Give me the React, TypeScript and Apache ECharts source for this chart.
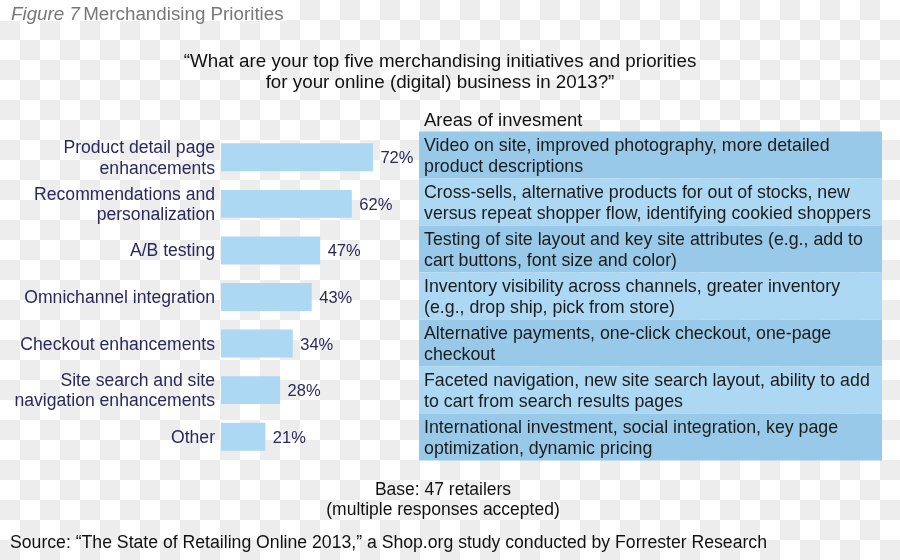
import React, { useEffect, useRef } from "react";
import * as echarts from "echarts";

const categories = [
  "Product detail page\nenhancements",
  "Recommendations and\npersonalization",
  "A/B testing",
  "Omnichannel integration",
  "Checkout enhancements",
  "Site search and site\nnavigation enhancements",
  "Other",
];
const shares = [72, 62, 47, 43, 34, 28, 21];
const investmentAreas = [
  "Video on site, improved photography, more detailed\nproduct descriptions",
  "Cross-sells, alternative products for out of stocks, new\nversus repeat shopper flow, identifying cookied shoppers",
  "Testing of site layout and key site attributes (e.g., add to\ncart buttons, font size and color)",
  "Inventory visibility across channels, greater inventory\n(e.g., drop ship, pick from store)",
  "Alternative payments, one-click checkout, one-page\ncheckout",
  "Faceted navigation, new site search layout, ability to add\nto cart from search results pages",
  "International investment, social integration, key page\noptimization, dynamic pricing",
];
const figureLabel = "Figure 7";
const figureTitle = "Merchandising Priorities";
const question = "\u201CWhat are your top five merchandising initiatives and priorities\nfor your online (digital) business in 2013?\u201D";
const areasHeader = "Areas of invesment";
const baseNote = "Base: 47 retailers\n(multiple responses accepted)";
const sourceNote = "Source: \u201CThe State of Retailing Online 2013,\u201D a Shop.org study conducted by Forrester Research";

const FONT = "'Liberation Sans', Arial, Helvetica, sans-serif";
const NAVY = "#2a295c";
const BAR = "#acd8f3";
const ROW_DARK = "#98c9e8";
const ROW_LIGHT = "#acd8f3";

export default function App() {
  const ref = useRef<HTMLDivElement>(null);
  useEffect(() => {
    if (!ref.current) return;
    const chart = echarts.init(ref.current, null, { renderer: "svg" });
    chart.setOption({
      animation: false,
      textStyle: { fontFamily: FONT },
      grid: [
        { left: 221, top: 134, width: 211, height: 326 },
        { left: 419, top: 131.5, width: 463, height: 329 },
      ],
      xAxis: [
        { type: "value", gridIndex: 0, min: 0, max: 100, show: false },
        { type: "value", gridIndex: 1, min: 0, max: 1, show: false },
      ],
      yAxis: [
        {
          type: "category",
          gridIndex: 0,
          inverse: true,
          data: categories,
          axisLine: { show: false },
          axisTick: { show: false },
          axisLabel: {
            margin: 6,
            color: NAVY,
            fontSize: 17.6,
            lineHeight: 20.5,
            fontFamily: FONT,
            align: "right",
          },
        },
        {
          type: "category",
          gridIndex: 1,
          inverse: true,
          data: investmentAreas,
          show: false,
        },
      ],
      series: [
        {
          type: "bar",
          xAxisIndex: 0,
          yAxisIndex: 0,
          data: shares,
          barCategoryGap: "40%",
          itemStyle: { color: BAR },
          silent: true,
          label: {
            show: true,
            position: "right",
            distance: 7.5,
            formatter: "{c}%",
            color: NAVY,
            fontSize: 16.5,
            fontFamily: FONT,
          },
        },
        {
          type: "bar",
          xAxisIndex: 1,
          yAxisIndex: 1,
          barCategoryGap: 0,
          silent: true,
          data: investmentAreas.map((_, i) => ({
            value: 1,
            itemStyle: { color: i % 2 === 0 ? ROW_DARK : ROW_LIGHT },
          })),
          label: {
            show: true,
            position: "insideLeft",
            distance: 5,
            formatter: "{b}",
            color: "#1c1c1c",
            fontSize: 17.8,
            lineHeight: 21,
            fontFamily: FONT,
            align: "left",
          },
        },
      ],
      graphic: [
        {
          type: "rect",
          shape: { x: 0, y: 0, width: 286, height: 21 },
          style: { fill: "#ffffff" },
          silent: true,
        },
        {
          type: "text",
          x: 11,
          y: 13,
          style: {
            text: `{i|${figureLabel}} {n|${figureTitle}}`,
            verticalAlign: "middle",
            rich: {
              i: { fontStyle: "italic", fontSize: 18.8, fill: "#777777", fontFamily: FONT },
              n: { fontSize: 18.8, fill: "#777777", fontFamily: FONT },
            },
          },
        },
        {
          type: "text",
          x: 440,
          y: 49.5,
          style: {
            text: question,
            fontSize: 18.8,
            lineHeight: 21,
            fill: "#111",
            fontFamily: FONT,
            align: "center",
            verticalAlign: "top",
          },
        },
        {
          type: "text",
          x: 424,
          y: 119,
          style: {
            text: areasHeader,
            fontSize: 18.5,
            fill: "#111",
            fontFamily: FONT,
            verticalAlign: "middle",
          },
        },
        {
          type: "text",
          x: 443,
          y: 479,
          style: {
            text: baseNote,
            fontSize: 17.5,
            lineHeight: 20,
            fill: "#111",
            fontFamily: FONT,
            align: "center",
            verticalAlign: "top",
          },
        },
        {
          type: "text",
          x: 10,
          y: 542,
          style: {
            text: sourceNote,
            fontSize: 17.65,
            fill: "#111",
            fontFamily: FONT,
            verticalAlign: "middle",
          },
        },
      ],
    });
    return () => chart.dispose();
  }, []);
  return (
    <div
      style={{
        position: "fixed",
        left: 0,
        top: 0,
        width: 900,
        height: 560,
        background:
          "conic-gradient(#ededed 0 25%, #ffffff 0 50%, #ededed 0 75%, #ffffff 0) 0 0 / 40px 40px",
      }}
    >
      <div ref={ref} style={{ width: 900, height: 560 }} />
    </div>
  );
}
